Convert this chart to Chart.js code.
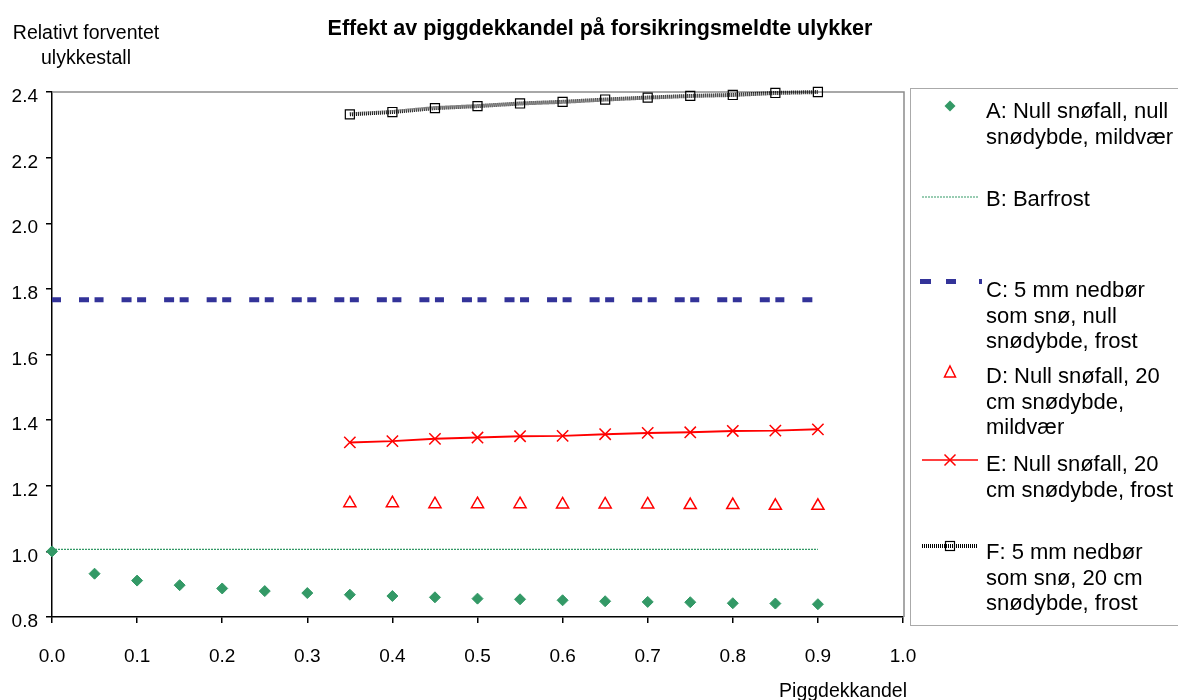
<!DOCTYPE html>
<html>
<head>
<meta charset="utf-8">
<script src="https://cdn.jsdelivr.net/npm/chart.js@4.4.1/dist/chart.umd.min.js"></script>
<style>
  html, body { margin: 0; padding: 0; background: #ffffff; }
  canvas { display: block; }
</style>
</head>
<body>
<canvas id="c" width="1178" height="700"></canvas>
<script>
// Piggdekkandel (x) for the full range and for the 20 cm snødybde series
const piggAlle = [0, 0.05, 0.1, 0.15, 0.2, 0.25, 0.3, 0.35, 0.4, 0.45, 0.5, 0.55, 0.6, 0.65, 0.7, 0.75, 0.8, 0.85, 0.9];
const piggHoy = [0.35, 0.4, 0.45, 0.5, 0.55, 0.6, 0.65, 0.7, 0.75, 0.8, 0.85, 0.9];

// Relativt forventet ulykkestall per serie
const serieA = [1.000, 0.932, 0.911, 0.897, 0.887, 0.879, 0.873, 0.868, 0.864, 0.860, 0.856, 0.854, 0.851, 0.848, 0.846, 0.845, 0.842, 0.841, 0.839];
const serieB = [1.006, 1.006, 1.006, 1.006, 1.006, 1.006, 1.006, 1.006, 1.006, 1.006, 1.006, 1.006, 1.006, 1.006, 1.006, 1.006, 1.006, 1.006, 1.006];
const serieC = [1.767, 1.767, 1.767, 1.767, 1.767, 1.767, 1.767, 1.767, 1.767, 1.767, 1.767, 1.767, 1.767, 1.767, 1.767, 1.767, 1.767, 1.767, 1.767];
const serieD = [1.147, 1.147, 1.144, 1.144, 1.144, 1.143, 1.143, 1.143, 1.141, 1.141, 1.139, 1.139];
const serieE = [1.332, 1.336, 1.343, 1.347, 1.351, 1.352, 1.357, 1.361, 1.363, 1.367, 1.368, 1.372];
const serieF = [2.332, 2.339, 2.351, 2.357, 2.365, 2.370, 2.377, 2.383, 2.388, 2.391, 2.397, 2.400];

// Tick labels
const xTickLabels = ['0.0', '0.1', '0.2', '0.3', '0.4', '0.5', '0.6', '0.7', '0.8', '0.9', '1.0'];
const yTickLabels = ['0.8', '1.0', '1.2', '1.4', '1.6', '1.8', '2.0', '2.2', '2.4'];

// Texts
const tittel = 'Effekt av piggdekkandel på forsikringsmeldte ulykker';
const yTittel = ['Relativt forventet', 'ulykkestall'];
const xTittel = 'Piggdekkandel';
const legendA = ['A: Null snøfall, null', 'snødybde, mildvær'];
const legendB = ['B: Barfrost'];
const legendC = ['C: 5 mm nedbør', 'som snø, null', 'snødybde, frost'];
const legendD = ['D: Null snøfall, 20', 'cm snødybde,', 'mildvær'];
const legendE = ['E: Null snøfall, 20', 'cm snødybde, frost'];
const legendF = ['F: 5 mm nedbør', 'som snø, 20 cm', 'snødybde, frost'];

const GREEN = '#339966';
const BLUE = '#333399';
const RED = '#ff0000';
const FONT = '"Liberation Sans", Arial, sans-serif';

function pts(xs, ys) { return xs.map((x, i) => ({ x: x, y: ys[i] })); }

// Gray frame on top and right side of the plot area
const frameTopRight = {
  id: 'frameTopRight',
  beforeDatasetsDraw(chart) {
    const a = chart.chartArea, ctx = chart.ctx;
    ctx.save();
    ctx.strokeStyle = '#8c8c8c';
    ctx.lineWidth = 1.5;
    ctx.beginPath();
    ctx.moveTo(a.left, a.top);
    ctx.lineTo(a.right + 1, a.top);
    ctx.lineTo(a.right + 1, a.bottom);
    ctx.stroke();
    ctx.restore();
  }
};

// Title, axis titles and the legend box
const texts = {
  id: 'texts',
  afterDraw(chart) {
    const ctx = chart.ctx;
    ctx.save();
    ctx.fillStyle = '#000';
    ctx.textBaseline = 'alphabetic';

    ctx.font = 'bold 21.5px ' + FONT;
    ctx.textAlign = 'center';
    ctx.fillText(tittel, 600, 35);

    ctx.font = '19.5px ' + FONT;
    ctx.fillText(yTittel[0], 86, 39);
    ctx.fillText(yTittel[1], 86, 64);

    ctx.textAlign = 'right';
    ctx.fillText(xTittel, 907, 697);

    // legend frame
    ctx.strokeStyle = '#555';
    ctx.lineWidth = 1;
    ctx.setLineDash([1, 1]);
    ctx.strokeRect(910.5, 88.5, 300, 537);
    ctx.setLineDash([]);

    // A
    ctx.fillStyle = GREEN;
    ctx.beginPath(); ctx.moveTo(950, 100.5); ctx.lineTo(955.5, 106); ctx.lineTo(950, 111.5); ctx.lineTo(944.5, 106); ctx.closePath(); ctx.fill();
    // B
    ctx.strokeStyle = GREEN; ctx.lineWidth = 1.2; ctx.setLineDash([2, 1]);
    ctx.beginPath(); ctx.moveTo(922, 197); ctx.lineTo(978, 197); ctx.stroke();
    ctx.setLineDash([]);
    // C
    ctx.fillStyle = BLUE;
    ctx.fillRect(920, 279, 11, 5);
    ctx.fillRect(946, 279, 10, 5);
    ctx.fillRect(979, 279, 3, 5);
    // D
    ctx.strokeStyle = RED; ctx.lineWidth = 1.5;
    ctx.beginPath(); ctx.moveTo(950, 366); ctx.lineTo(955.5, 377); ctx.lineTo(944.5, 377); ctx.closePath(); ctx.stroke();
    // E
    ctx.lineWidth = 1.5;
    ctx.beginPath(); ctx.moveTo(922, 460); ctx.lineTo(978, 460); ctx.stroke();
    ctx.beginPath(); ctx.moveTo(944.5, 454.5); ctx.lineTo(955.5, 465.5); ctx.moveTo(955.5, 454.5); ctx.lineTo(944.5, 465.5); ctx.stroke();
    // F
    ctx.strokeStyle = '#000'; ctx.lineWidth = 4; ctx.setLineDash([1, 1]);
    ctx.beginPath(); ctx.moveTo(922, 546); ctx.lineTo(978, 546); ctx.stroke();
    ctx.setLineDash([]); ctx.lineWidth = 1.2;
    ctx.strokeRect(945.5, 541.5, 9, 9);

    // legend texts
    ctx.fillStyle = '#000';
    ctx.textAlign = 'left';
    ctx.font = '22px ' + FONT;
    const blocks = [[legendA, 118], [legendB, 206], [legendC, 297], [legendD, 383], [legendE, 471], [legendF, 559]];
    blocks.forEach(([lines, y0]) => {
      lines.forEach((t, i) => ctx.fillText(t, 986, y0 + i * 25.5));
    });
    ctx.restore();
  }
};

const tickFont = { family: FONT, size: 19 };

new Chart(document.getElementById('c'), {
  type: 'scatter',
  data: {
    datasets: [
      {
        label: legendA.join(' '), data: pts(piggAlle, serieA), showLine: false,
        pointStyle: 'rectRot', pointRadius: 5.5, backgroundColor: GREEN, borderColor: GREEN, pointBorderWidth: 1, clip: false
      },
      {
        label: legendB.join(' '), data: pts(piggAlle, serieB), showLine: true, pointRadius: 0,
        borderColor: GREEN, borderWidth: 1.2, borderDash: [2, 1], clip: false
      },
      {
        label: legendC.join(' '), data: pts(piggAlle, serieC), showLine: true, pointRadius: 0,
        borderColor: BLUE, borderWidth: 5, borderDash: [9, 18, 10, 5.55], borderCapStyle: 'butt', clip: false
      },
      {
        label: legendD.join(' '), data: pts(piggHoy, serieD), showLine: false,
        pointStyle: 'triangle', pointRadius: 7, borderColor: RED, backgroundColor: 'rgba(255,255,255,0)', pointBorderWidth: 1.5, clip: false
      },
      {
        label: legendE.join(' '), data: pts(piggHoy, serieE), showLine: true,
        borderColor: RED, borderWidth: 2, pointStyle: 'crossRot', pointRadius: 8, pointBorderWidth: 1.5,
        pointBorderColor: RED, backgroundColor: RED, clip: false
      },
      {
        label: legendF.join(' '), data: pts(piggHoy, serieF), showLine: true,
        borderColor: '#000', borderWidth: 4, borderDash: [1, 1], pointStyle: 'rect', pointRadius: 6.4,
        pointBorderWidth: 1.2, pointBorderColor: '#000', pointBackgroundColor: 'rgba(255,255,255,0)', clip: false
      }
    ]
  },
  options: {
    responsive: false,
    animation: false,
    events: [],
    layout: { padding: { left: 0, top: 92, right: 275, bottom: 13 } },
    plugins: { legend: { display: false }, tooltip: { enabled: false }, title: { display: false } },
    scales: {
      x: {
        type: 'linear', min: 0, max: 1,
        border: { display: true, color: '#000', width: 1.5 },
        grid: { display: true, drawOnChartArea: false, drawTicks: true, tickLength: 6, color: '#000', lineWidth: 1.5 },
        ticks: {
          stepSize: 0.1, color: '#000', font: tickFont, padding: 22, maxRotation: 0,
          callback: (v, i) => xTickLabels[i]
        },
        afterFit: (s) => { s.height = 70; }
      },
      y: {
        type: 'linear', min: 0.8, max: 2.4,
        border: { display: true, color: '#000', width: 1.5 },
        grid: { display: true, drawOnChartArea: false, drawTicks: true, tickLength: 6, color: '#000', lineWidth: 1.5 },
        ticks: {
          stepSize: 0.2, color: '#000', font: tickFont, padding: 8, labelOffset: 5,
          callback: (v, i) => yTickLabels[i]
        },
        afterFit: (s) => { s.width = 52; }
      }
    }
  },
  plugins: [frameTopRight, texts]
});
</script>
</body>
</html>
